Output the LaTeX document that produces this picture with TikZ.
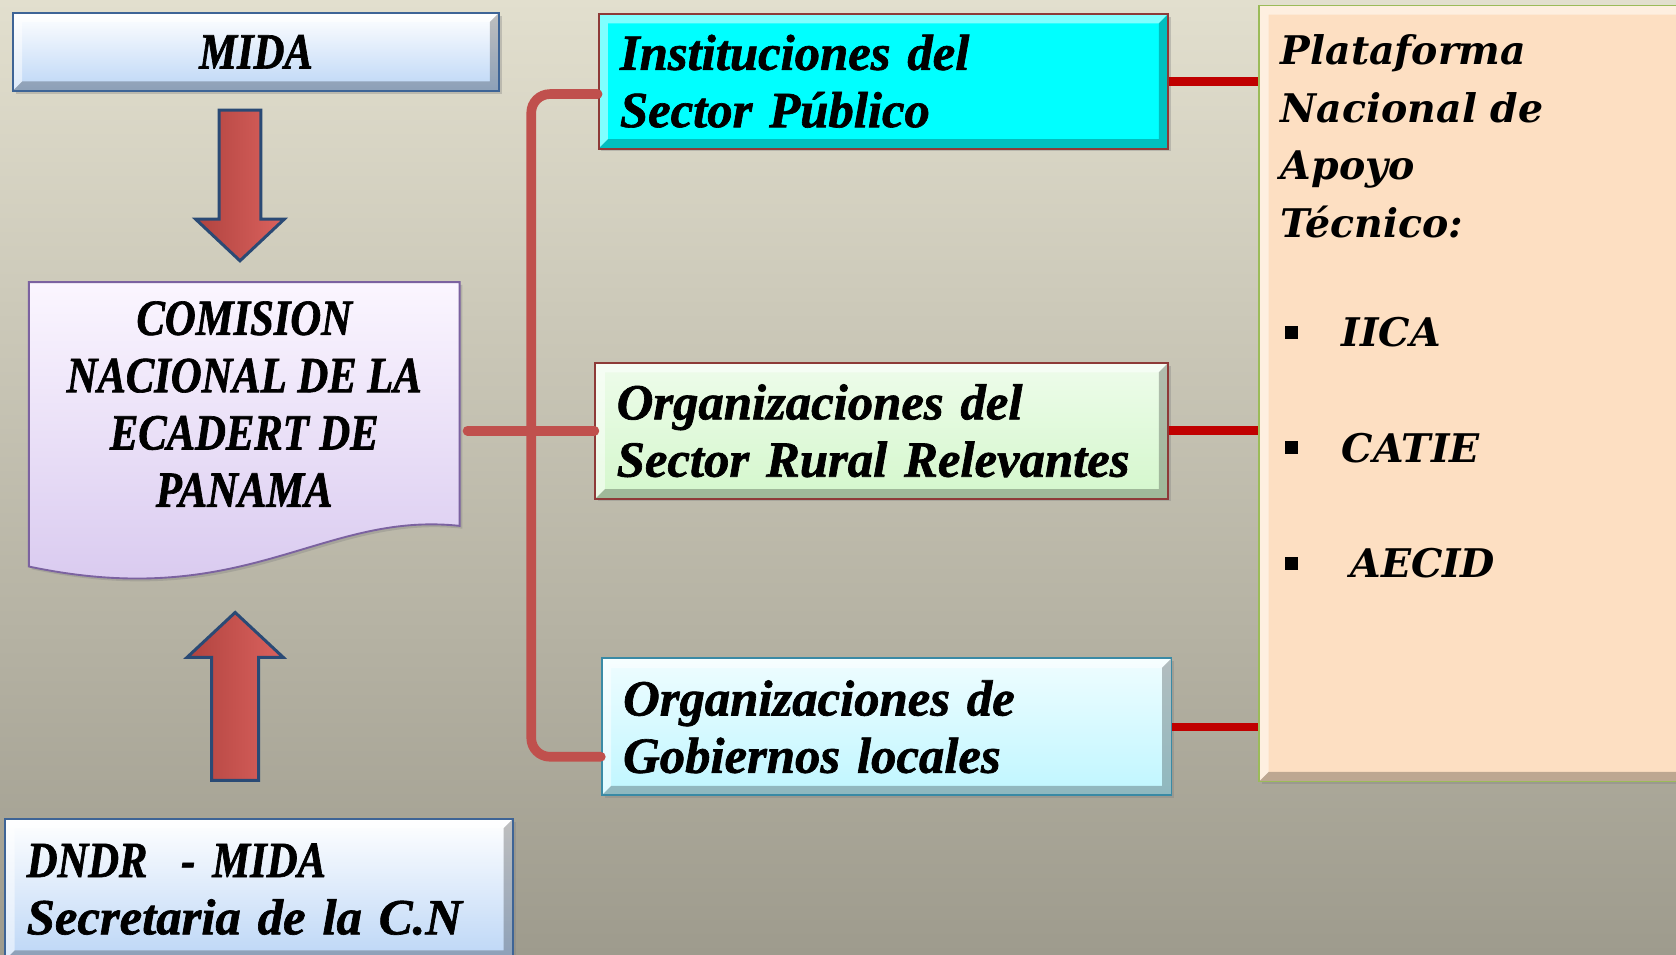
\documentclass[tikz,border=0pt]{standalone}
\usepackage{fontspec}
\setmainfont{Liberation Serif}[BoldItalicFeatures={FakeBold=1.3}]
\newfontfamily\capsfont{Liberation Serif}[FakeStretch=0.84, BoldItalicFeatures={FakeBold=1.3}]
\newfontfamily\platfont{DejaVu Serif}
\usetikzlibrary{shadows}

\definecolor{bgtop}{HTML}{E2DFCE}
\definecolor{bgbot}{HTML}{9E9B8D}
\definecolor{bluefill}{HTML}{BCD6F6}
\definecolor{blueline}{HTML}{3E6496}
\definecolor{lilactop}{HTML}{FBF6FF}
\definecolor{lilacfill}{HTML}{D6C6EE}
\definecolor{lilacline}{HTML}{7B62A0}
\definecolor{cyanfill}{HTML}{00FFFF}
\definecolor{greenfill}{HTML}{D4F7CC}
\definecolor{aquafill}{HTML}{BFF6FF}
\definecolor{aqualine}{HTML}{3A8AA5}
\definecolor{boxred}{HTML}{8E3A38}
\definecolor{peach}{HTML}{FDDFC2}
\definecolor{oliveline}{HTML}{9BBB59}
\definecolor{bracered}{HTML}{C0504D}
\definecolor{linkred}{HTML}{C00000}
\definecolor{arrowline}{HTML}{2A4A75}
\definecolor{arrowdark}{HTML}{B0433F}
\definecolor{arrowlight}{HTML}{DB625E}

\tikzset{
  bevel/.style={path picture={
      \fill[white,opacity=.5]
        (path picture bounding box.south west) -- (path picture bounding box.north west)
        -- (path picture bounding box.north east) -- ([shift={(-#1,-#1)}]path picture bounding box.north east)
        -- ([shift={(#1,-#1)}]path picture bounding box.north west) -- ([shift={(#1,#1)}]path picture bounding box.south west) -- cycle;
      \fill[black,opacity=.25]
        (path picture bounding box.south west) -- (path picture bounding box.south east)
        -- (path picture bounding box.north east) -- ([shift={(-#1,-#1)}]path picture bounding box.north east)
        -- ([shift={(-#1,#1)}]path picture bounding box.south east) -- ([shift={(#1,#1)}]path picture bounding box.south west) -- cycle;
  }},
  bevel/.default=5pt,
  box/.style={rectangle, draw, line width=1pt, bevel,
    drop shadow={opacity=.35, shadow xshift=1.5pt, shadow yshift=-1.5pt},
    font=\fontsize{27}{30.5}\selectfont\bfseries\itshape, inner xsep=0.4cm, align=left},
  plattext/.style={font=\platfont\fontsize{21}{30.7}\selectfont\bfseries\itshape, align=left, inner sep=0pt},
  bullet/.style={rectangle, fill=black, minimum size=0.24cm, inner sep=0pt},
  blockarrow/.style={left color=arrowdark, right color=arrowlight, draw=arrowline, line width=1.6pt, line join=miter},
  link/.style={draw=linkred, line width=0.16cm},
  brace/.style={draw=bracered, line width=0.18cm, line cap=round}
}

\begin{document}
\begin{tikzpicture}
  \useasboundingbox (0,0) rectangle (31.36,17.86);
  \shade[top color=bgtop, bottom color=bgbot] (0,0) rectangle (31.36,17.86);

  % left column
  \node[box, draw=blueline, top color=white, bottom color=bluefill,
    minimum width=9.1cm, minimum height=1.46cm, align=center] (mida) at (4.79,16.89) {\capsfont MIDA};
  \shadedraw[blockarrow] (4.10,15.8) -- (4.88,15.8) -- (4.88,13.76) -- (5.32,13.76)
    -- (4.49,12.98) -- (3.66,13.76) -- (4.10,13.76) -- cycle;

  \shadedraw[top color=lilactop, bottom color=lilacfill, draw=lilacline, line width=1pt,
    drop shadow={opacity=.35, shadow xshift=1.5pt, shadow yshift=-1.5pt}]
    (0.54,12.58) -- (8.6,12.58) -- (8.6,8.02)
    .. controls (6.0,8.3) and (4.6,6.4) .. (0.54,7.26) -- cycle;
  \node[font=\fontsize{27}{30.5}\selectfont\bfseries\itshape\capsfont, align=center,
    minimum width=8.06cm, minimum height=4.56cm] (cnea) at (4.57,10.30)
    {COMISION\\NACIONAL DE LA\\ECADERT DE\\PANAMA};

  \shadedraw[blockarrow] (3.96,3.26) -- (4.84,3.26) -- (4.84,5.56) -- (5.3,5.56)
    -- (4.4,6.4) -- (3.5,5.56) -- (3.96,5.56) -- cycle;
  \node[box, draw=blueline, top color=white, bottom color=bluefill,
    text width=8.7cm, minimum height=2.64cm] (dndr) at (4.85,1.22)
    {{\capsfont DNDR\ \ - MIDA}\\Secretaria de la C.N};

  % middle column
  \node[box, draw=boxred, fill=cyanfill, text width=9.86cm, minimum height=2.52cm]
    (inst) at (16.53,16.34) {Instituciones del\\Sector Público};
  \node[box, draw=boxred, top color=greenfill!40!white, bottom color=greenfill,
    text width=9.92cm, minimum height=2.54cm] (rural) at (16.50,9.80)
    {Organizaciones del\\Sector Rural Relevantes};
  \node[box, draw=aqualine, top color=aquafill!25!white, bottom color=aquafill,
    text width=9.86cm, minimum height=2.56cm] (gob) at (16.59,4.26)
    {Organizaciones de\\Gobiernos locales};

  % right column
  \node[box, draw=oliveline, fill=peach, line width=0.8pt,
    minimum width=8.24cm, minimum height=14.52cm] (plat) at (27.68,10.5) {};
  \node[plattext, anchor=north west] (plattitle) at (23.96,17.22)
    {Plataforma\\Nacional de\\Apoyo\\Técnico:};
  \node[bullet] (b1) at (24.16,11.64) {};
  \node[bullet] (b2) at (24.16,9.48) {};
  \node[bullet] (b3) at (24.16,7.32) {};
  \node[plattext, anchor=base west] (iica) at (25.1,11.37) {IICA};
  \node[plattext, anchor=base west] (catie) at (25.1,9.21) {CATIE};
  \node[plattext, anchor=base west] (aecid) at (25.26,7.05) {AECID};

  % connectors
  \draw[brace, rounded corners=0.35cm] ([yshift=-0.24cm]inst.west) -| (9.94,10) |- ([yshift=-0.56cm]gob.west);
  \path (cnea.east |- rural.west) ++(0.14,0) coordinate (cneaout);
  \draw[brace] (cneaout) -- (rural.west);
  \draw[link] (inst.east) -- (inst.east -| plat.west);
  \draw[link] (rural.east) -- (rural.east -| plat.west);
  \draw[link] (gob.east) -- (gob.east -| plat.west);
\end{tikzpicture}
\end{document}
